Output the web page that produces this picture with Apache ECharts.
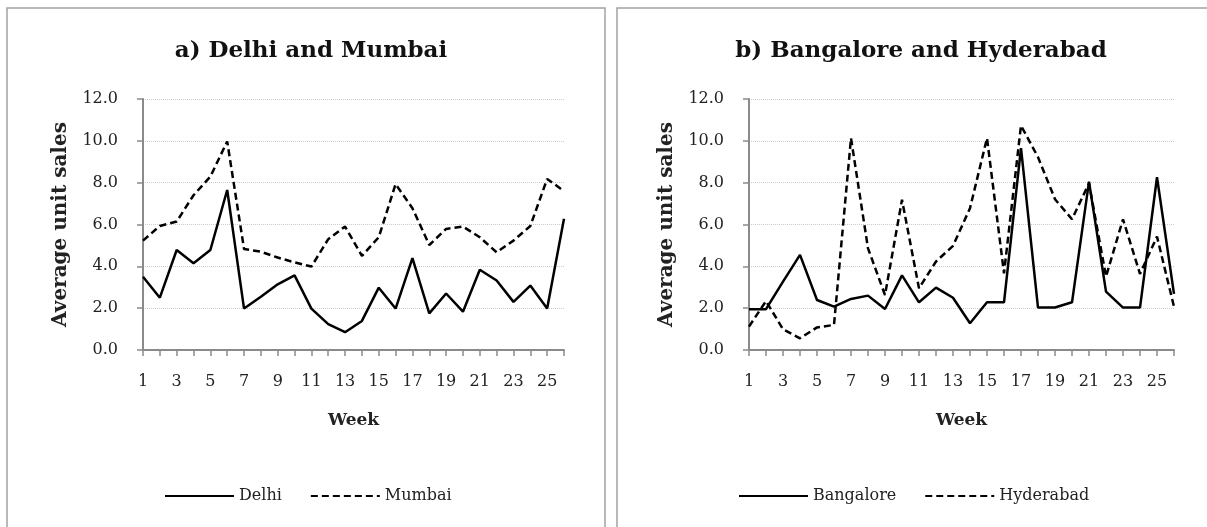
<!DOCTYPE html>
<html>
<head>
<meta charset="utf-8">
<script src="https://cdn.jsdelivr.net/npm/echarts@6/dist/echarts.min.js"></script>
<style>
html,body{margin:0;padding:0;background:#fff;}
#chart{width:1207px;height:527px;}
</style>
</head>
<body>
<div id="chart"></div>
<script>
const weeks = ['1','2','3','4','5','6','7','8','9','10','11','12','13','14','15','16','17','18','19','20','21','22','23','24','25','26'];
const yTicks = [0, 2, 4, 6, 8, 10, 12];
const delhi = [3.5,2.5,4.78,4.15,4.78,7.65,1.98,2.55,3.14,3.57,1.98,1.24,0.85,1.39,2.98,1.98,4.39,1.75,2.7,1.83,3.84,3.32,2.3,3.08,1.98,6.27];
const mumbai = [5.23,5.93,6.14,7.4,8.29,9.97,4.83,4.7,4.42,4.19,3.99,5.3,5.9,4.5,5.39,7.93,6.78,5.02,5.79,5.9,5.39,4.67,5.23,5.93,8.18,7.6];
const bangalore = [1.95,1.95,3.27,4.55,2.39,2.07,2.44,2.6,1.96,3.57,2.28,2.98,2.5,1.28,2.28,2.28,9.65,2.03,2.03,2.28,8.05,2.79,2.03,2.03,8.26,2.68];
const hyderabad = [1.12,2.34,0.99,0.56,1.08,1.2,10.13,4.86,2.63,7.18,2.95,4.23,4.98,6.78,10.13,3.67,10.73,9.22,7.21,6.25,7.97,3.51,6.25,3.64,5.42,2.07];
const titles = ['a) Delhi and Mumbai', 'b) Bangalore and Hyderabad'];
const yName = 'Average unit sales';
const xName = 'Week';

const FONT = 'DejaVu Serif';
const AXIS_COLOR = '#8a8a8a';
const chart = echarts.init(document.getElementById('chart'), null, {renderer: 'canvas'});

function xAxis(idx) {
  return {
    type: 'category', gridIndex: idx, data: weeks, boundaryGap: false,
    axisLine: {lineStyle: {color: AXIS_COLOR, width: 2}},
    axisTick: {show: true, interval: 0, length: 6, lineStyle: {color: AXIS_COLOR, width: 1.5}},
    axisLabel: {interval: 1, margin: 24, color: '#222', fontFamily: FONT, fontSize: 16},
    name: xName, nameLocation: 'middle', nameGap: 62,
    nameTextStyle: {fontFamily: FONT, fontWeight: 'bold', fontSize: 17, color: '#222'},
    splitLine: {show: false}
  };
}
function yAxis(idx) {
  return {
    type: 'value', gridIndex: idx, min: yTicks[0], max: yTicks[yTicks.length - 1], interval: 2,
    axisLine: {show: true, lineStyle: {color: AXIS_COLOR, width: 2}},
    axisTick: {show: true, length: 6, lineStyle: {color: AXIS_COLOR, width: 1.5}},
    axisLabel: {margin: 25, color: '#222', fontFamily: FONT, fontSize: 16, formatter: v => v.toFixed(1)},
    splitLine: {show: true, lineStyle: {color: '#cccccc', type: 'dotted', width: 1}},
    name: yName, nameLocation: 'middle', nameGap: 72,
    nameTextStyle: {fontFamily: FONT, fontWeight: 'bold', fontSize: 20, color: '#222'}
  };
}
function line(name, data, idx, dashed) {
  return {
    name: name, type: 'line', xAxisIndex: idx, yAxisIndex: idx, data: data,
    symbol: 'none', smooth: false, animation: false,
    lineStyle: {color: '#000', width: 2.5, type: dashed ? [7, 4] : 'solid'},
    itemStyle: {color: '#000'}
  };
}
function legend(names, left) {
  return {
    data: names, left: left, top: 483, itemWidth: 69, itemHeight: 14, itemGap: 28,
    itemStyle: {opacity: 0},
    textStyle: {fontFamily: FONT, fontSize: 16, color: '#222'}
  };
}

chart.setOption({
  animation: false,
  backgroundColor: '#fff',
  graphic: [
    {type: 'rect', shape: {x: 7, y: 8, width: 598, height: 540}, style: {fill: 'none', stroke: '#a3a3a3', lineWidth: 1.5}, silent: true},
    {type: 'rect', shape: {x: 617, y: 8, width: 598, height: 540}, style: {fill: 'none', stroke: '#a3a3a3', lineWidth: 1.5}, silent: true}
  ],
  title: [
    {text: titles[0], left: 306, top: 35, textAlign: 'center', textStyle: {fontFamily: FONT, fontWeight: 'bold', fontSize: 23, color: '#111'}},
    {text: titles[1], left: 916, top: 35, textAlign: 'center', textStyle: {fontFamily: FONT, fontWeight: 'bold', fontSize: 23, color: '#111'}}
  ],
  legend: [legend(['Delhi', 'Mumbai'], 159), legend(['Bangalore', 'Hyderabad'], 733)],
  grid: [
    {left: 143, top: 99, width: 421, height: 251, containLabel: false},
    {left: 749, top: 99, width: 425, height: 251, containLabel: false}
  ],
  xAxis: [xAxis(0), xAxis(1)],
  yAxis: [yAxis(0), yAxis(1)],
  series: [
    line('Delhi', delhi, 0, false),
    line('Mumbai', mumbai, 0, true),
    line('Bangalore', bangalore, 1, false),
    line('Hyderabad', hyderabad, 1, true)
  ]
});
</script>
</body>
</html>
